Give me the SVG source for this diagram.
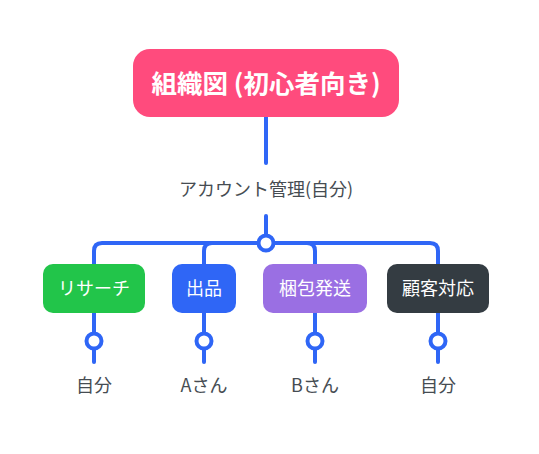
<svg xmlns="http://www.w3.org/2000/svg" width="539" height="454" viewBox="0 0 539 454">
<style>
text{font-family:"Noto Sans CJK JP","Noto Sans",sans-serif;text-anchor:middle}
.lbl{font-size:18px;fill:#464c52}
.nt{font-size:18px;fill:#ffffff}
.ln{fill:none;stroke:#2f66f6;stroke-width:4;stroke-linecap:round}
.dot{fill:#ffffff;stroke:#2f66f6;stroke-width:4}
</style>
<rect width="539" height="454" fill="#ffffff"/>
<g id="connectors">
<path class="ln" d="M266 117V163"/>
<path class="ln" d="M266 216V243"/>
<path class="ln" d="M94 264V251Q94 243 102 243H430Q438 243 438 251V264"/>
<path class="ln" d="M204 264V251Q204 243 212 243"/>
<path class="ln" d="M315 264V251Q315 243 307 243"/>
<path class="ln" d="M94 313V362"/>
<path class="ln" d="M204 313V362"/>
<path class="ln" d="M315 313V362"/>
<path class="ln" d="M438 313V362"/>
<circle class="dot" cx="266" cy="243" r="7.5"/>
<circle class="dot" cx="94" cy="341" r="7.5"/>
<circle class="dot" cx="204" cy="341" r="7.5"/>
<circle class="dot" cx="315" cy="341" r="7.5"/>
<circle class="dot" cx="438" cy="341" r="7.5"/>
</g>
<g id="root">
<rect x="133" y="49" width="266" height="68" rx="17" fill="#ff4b7d"/>
<text x="266" y="93" font-size="25.5" font-weight="bold" fill="#ffffff">組織図 (初心者向き)</text>
</g>
<g id="account">
<text class="lbl" x="266" y="196">アカウント管理(自分)</text>
</g>
<g id="research">
<rect x="43" y="264" width="102" height="49" rx="10" fill="#22c54a"/>
<text class="nt" x="94" y="295">リサーチ</text>
</g>
<g id="listing">
<rect x="172" y="264" width="64" height="49" rx="10" fill="#2f66f6"/>
<text class="nt" x="204" y="295">出品</text>
</g>
<g id="packing">
<rect x="263" y="264" width="104" height="49" rx="10" fill="#9a6fe3"/>
<text class="nt" x="315" y="295">梱包発送</text>
</g>
<g id="support">
<rect x="387" y="264" width="102" height="49" rx="10" fill="#343c42"/>
<text class="nt" x="438" y="295">顧客対応</text>
</g>
<g id="leaf1"><text class="lbl" x="94" y="392">自分</text></g>
<g id="leaf2"><text class="lbl" x="204" y="392">Aさん</text></g>
<g id="leaf3"><text class="lbl" x="315" y="392">Bさん</text></g>
<g id="leaf4"><text class="lbl" x="438" y="392">自分</text></g>
</svg>
